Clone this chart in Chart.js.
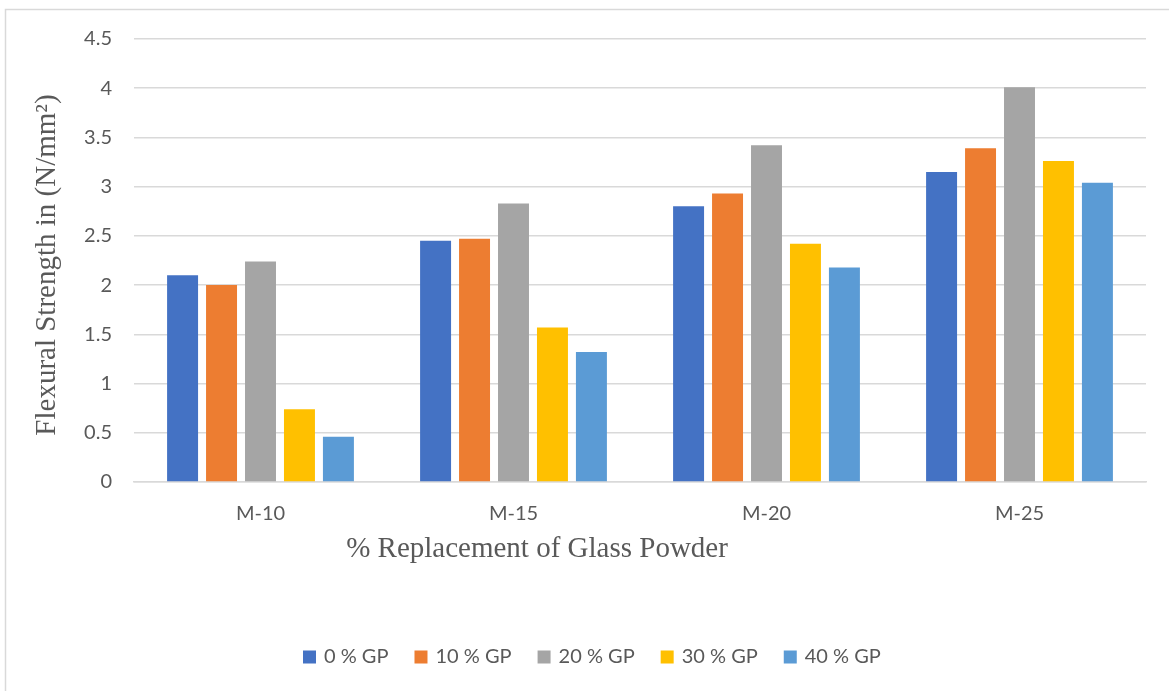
<!DOCTYPE html>
<html>
<head>
<meta charset="utf-8">
<style>
  html, body { margin: 0; padding: 0; background: #ffffff; }
  #wrap { width: 1169px; height: 691px; position: relative; }
</style>
<script src="https://cdn.jsdelivr.net/npm/chart.js@4/dist/chart.umd.min.js"></script>
</head>
<body>
<div id="wrap"><canvas id="chart" width="1169" height="691"></canvas></div>
<script>
// Mix grades and flexural strength (N/mm²) for each glass-powder replacement level
const categories = ['M-10', 'M-15', 'M-20', 'M-25'];
const gp0  = [2.10, 2.45, 2.80, 3.15];
const gp10 = [2.00, 2.47, 2.93, 3.39];
const gp20 = [2.24, 2.83, 3.42, 4.01];
const gp30 = [0.74, 1.57, 2.42, 3.26];
const gp40 = [0.46, 1.32, 2.18, 3.04];
const seriesNames = ['0 % GP', '10 % GP', '20 % GP', '30 % GP', '40 % GP'];
const yTicks = [0, 0.5, 1, 1.5, 2, 2.5, 3, 3.5, 4, 4.5];

const colors = ['#4472C4', '#ED7D31', '#A5A5A5', '#FFC000', '#5B9BD5'];
const seriesValues = [gp0, gp10, gp20, gp30, gp40];
const textGrey = '#595959';
const gridGrey = '#d9d9d9';
const sansFont = 'Lato, "Open Sans", sans-serif';
const serifFont = '"Liberation Serif", "DejaVu Serif", serif';

const datasets = seriesValues.map((vals, i) => ({
  label: seriesNames[i],
  data: vals,
  backgroundColor: colors[i],
  borderWidth: 0,
  categoryPercentage: 0.77,
  barPercentage: 0.795
}));

// Frame lines, axis titles and the bottom legend
const decorations = {
  id: 'decorations',
  beforeDraw(chart) {
    const ctx = chart.ctx;
    ctx.save();
    ctx.fillStyle = '#ffffff';
    ctx.fillRect(0, 0, chart.width, chart.height);
    ctx.strokeStyle = gridGrey;
    ctx.lineWidth = 1.5;
    ctx.beginPath();
    ctx.moveTo(5.5, chart.height);
    ctx.lineTo(5.5, 9.5);
    ctx.lineTo(chart.width, 9.5);
    ctx.stroke();
    ctx.restore();
  },
  afterDraw(chart) {
    const ctx = chart.ctx;
    ctx.save();
    // y-axis title
    ctx.fillStyle = textGrey;
    ctx.font = '29px ' + serifFont;
    ctx.textAlign = 'center';
    ctx.textBaseline = 'middle';
    ctx.translate(47, 265);
    ctx.rotate(-Math.PI / 2);
    ctx.fillText('Flexural Strength in (N/mm²)', 0, 0);
    ctx.restore();

    ctx.save();
    // x-axis title
    ctx.fillStyle = textGrey;
    ctx.font = '29px ' + serifFont;
    ctx.textAlign = 'center';
    ctx.textBaseline = 'middle';
    ctx.fillText('% Replacement of Glass Powder', 537, 549);

    // legend
    ctx.font = '20px ' + sansFont;
    ctx.textAlign = 'left';
    ctx.textBaseline = 'middle';
    let x = 303;
    const y = 657;
    chart.data.datasets.forEach(ds => {
      ctx.fillStyle = ds.backgroundColor;
      ctx.fillRect(x, y - 6.5, 13, 13);
      ctx.fillStyle = textGrey;
      ctx.fillText(ds.label, x + 21, y);
      x += 21 + ctx.measureText(ds.label).width + 26;
    });
    ctx.restore();
  }
};

new Chart(document.getElementById('chart'), {
  type: 'bar',
  data: { labels: categories, datasets },
  plugins: [decorations],
  options: {
    responsive: false,
    animation: false,
    layout: { padding: { left: 0, right: 23, top: 39, bottom: 0 } },
    plugins: {
      legend: { display: false },
      tooltip: { enabled: false }
    },
    scales: {
      x: {
        grid: { display: false, drawTicks: false },
        border: { display: true, color: gridGrey, width: 1.5 },
        ticks: {
          color: textGrey,
          font: { family: sansFont, size: 20 },
          padding: 20
        },
        afterFit(scale) { scale.height = 209; }
      },
      y: {
        min: 0,
        max: 4.5,
        afterBuildTicks(scale) { scale.ticks = yTicks.map(v => ({ value: v })); },
        grid: { color: gridGrey, lineWidth: 1.5, drawTicks: false },
        border: { display: false },
        ticks: {
          color: textGrey,
          font: { family: sansFont, size: 20 },
          padding: 22,
          callback: v => String(v)
        },
        afterFit(scale) { scale.width = 134; }
      }
    }
  }
});
</script>
</body>
</html>
